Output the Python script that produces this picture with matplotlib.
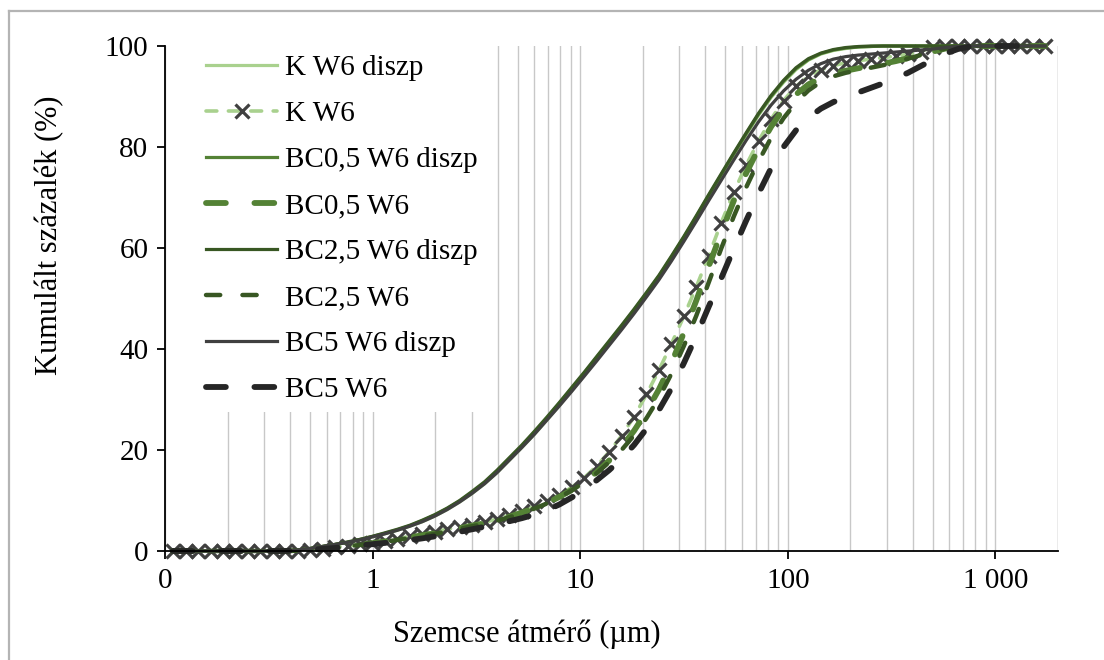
import matplotlib
matplotlib.use("Agg")
import matplotlib.pyplot as plt
from matplotlib.ticker import FixedLocator, NullFormatter
from matplotlib.lines import Line2D

plt.rcParams['font.family'] = ['Liberation Serif', 'DejaVu Serif']

# particle diameter classes (µm)
diameter = [0.109, 0.126, 0.144, 0.166, 0.190, 0.218, 0.251, 0.288, 0.330, 0.379,
            0.435, 0.500, 0.574, 0.659, 0.757, 0.869, 0.998, 1.146, 1.315, 1.510,
            1.734, 1.991, 2.286, 2.624, 3.013, 3.459, 3.972, 4.560, 5.236, 6.012,
            6.902, 7.925, 9.099, 10.45, 11.99, 13.77, 15.81, 18.16, 20.84, 23.93,
            27.48, 31.55, 36.22, 41.59, 47.75, 54.83, 62.95, 72.28, 82.99, 95.28,
            109.4, 125.6, 144.2, 165.6, 190.1, 218.3, 250.6, 287.7, 330.4, 379.3,
            435.5, 500.0, 574.1, 659.2, 756.8, 868.9, 997.7, 1146, 1315, 1510, 1734]

# cumulative percentages
k_w6_diszp = [0, 0, 0, 0, 0, 0, 0, 0, 0, 0.05,
              0.2, 0.5, 0.9, 1.3, 1.7, 2.2, 2.8, 3.4, 4.1, 4.9,
              5.8, 6.9, 8.2, 9.7, 11.4, 13.3, 15.5, 18.0, 20.5, 23.1,
              25.9, 28.8, 31.8, 34.8, 37.9, 41.0, 44.1, 47.3, 50.6, 54.0,
              57.8, 61.8, 65.9, 70.1, 74.3, 78.4, 82.4, 86.3, 89.8, 92.8,
              95.3, 97.2, 98.4, 99.1, 99.5, 99.8, 99.9, 100, 100, 100,
              100, 100, 100, 100, 100, 100, 100, 100, 100, 100, 100]

k_w6 = [0, 0, 0, 0, 0, 0, 0, 0, 0, 0,
        0.05, 0.2, 0.4, 0.7, 1.0, 1.3, 1.6, 2.0, 2.4, 2.9,
        3.4, 3.8, 4.3, 4.8, 5.2, 5.7, 6.3, 7.1, 7.9, 8.9,
        9.9, 11.1, 12.6, 14.5, 16.8, 19.6, 22.8, 26.6, 31.0, 35.8,
        41.0, 46.5, 52.3, 58.5, 65.0, 71.0, 76.4, 81.2, 85.5, 89.2,
        92.0, 94.0, 95.3, 96.1, 96.7, 97.1, 97.4, 97.7, 98.0, 98.4,
        98.9, 99.8, 100, 100, 100, 100, 100, 100, 100, 100, 100]

bc05_w6_diszp = [0, 0, 0, 0, 0, 0, 0, 0, 0, 0.05,
                 0.2, 0.5, 0.9, 1.3, 1.7, 2.3, 2.9, 3.5, 4.2, 5.0,
                 6.0, 7.1, 8.4, 9.9, 11.6, 13.5, 15.8, 18.3, 20.8, 23.5,
                 26.3, 29.2, 32.2, 35.2, 38.3, 41.4, 44.5, 47.7, 51.0, 54.4,
                 58.2, 62.1, 66.2, 70.4, 74.5, 78.6, 82.6, 86.5, 90.0, 93.0,
                 95.5, 97.3, 98.5, 99.2, 99.6, 99.8, 99.9, 100, 100, 100,
                 100, 100, 100, 100, 100, 100, 100, 100, 100, 100, 100]

bc05_w6 = [0, 0, 0, 0, 0, 0, 0, 0, 0, 0,
           0.05, 0.2, 0.4, 0.65, 0.95, 1.25, 1.55, 1.9, 2.3, 2.7,
           3.1, 3.5, 4.0, 4.5, 5.0, 5.5, 6.1, 6.8, 7.6, 8.5,
           9.5, 10.7, 12.1, 13.7, 15.6, 17.9, 20.6, 23.8, 27.6, 32.0,
           37.2, 43.2, 49.6, 56.4, 63.0, 69.3, 74.8, 79.7, 84.0, 87.6,
           90.4, 92.4, 93.7, 94.5, 95.1, 95.6, 96.0, 96.5, 97.0, 97.6,
           98.3, 98.9, 99.5, 99.9, 100, 100, 100, 100, 100, 100, 100]

bc25_w6_diszp = [0, 0, 0, 0, 0, 0, 0, 0, 0, 0.05,
                 0.2, 0.5, 0.9, 1.3, 1.8, 2.3, 2.9, 3.6, 4.3, 5.1,
                 6.1, 7.2, 8.5, 10.0, 11.8, 13.7, 16.0, 18.5, 21.0, 23.7,
                 26.5, 29.4, 32.4, 35.4, 38.5, 41.6, 44.7, 47.9, 51.2, 54.6,
                 58.4, 62.3, 66.4, 70.6, 74.7, 78.8, 82.8, 86.7, 90.2, 93.2,
                 95.7, 97.5, 98.6, 99.3, 99.7, 99.9, 100, 100, 100, 100,
                 100, 100, 100, 100, 100, 100, 100, 100, 100, 100, 100]

bc25_w6 = [0, 0, 0, 0, 0, 0, 0, 0, 0, 0,
           0.05, 0.2, 0.4, 0.6, 0.9, 1.2, 1.5, 1.8, 2.2, 2.6,
           3.0, 3.4, 3.9, 4.4, 4.9, 5.4, 6.0, 6.7, 7.5, 8.4,
           9.4, 10.6, 12.0, 13.6, 15.4, 17.6, 20.0, 22.9, 26.3, 30.3,
           35.1, 40.6, 46.6, 53.2, 59.9, 66.2, 72.0, 77.2, 81.8, 85.7,
           88.8, 91.2, 92.9, 94.0, 94.7, 95.2, 95.7, 96.2, 96.8, 97.5,
           98.2, 98.9, 99.5, 99.9, 100, 100, 100, 100, 100, 100, 100]

bc5_w6_diszp = [0, 0, 0, 0, 0, 0, 0, 0, 0, 0.05,
                0.2, 0.5, 0.9, 1.3, 1.7, 2.2, 2.8, 3.4, 4.1, 4.9,
                5.8, 6.9, 8.2, 9.7, 11.4, 13.3, 15.5, 18.0, 20.5, 23.1,
                25.9, 28.7, 31.6, 34.6, 37.6, 40.7, 43.8, 47.0, 50.3, 53.7,
                57.4, 61.3, 65.3, 69.4, 73.4, 77.4, 81.3, 85.0, 88.3, 91.1,
                93.4, 95.2, 96.5, 97.4, 97.9, 98.2, 98.4, 98.6, 98.8, 99.0,
                99.2, 99.4, 99.7, 99.9, 100, 100, 100, 100, 100, 100, 100]

bc5_w6 = [0, 0, 0, 0, 0, 0, 0, 0, 0, 0,
          0.05, 0.2, 0.4, 0.6, 0.85, 1.1, 1.35, 1.6, 1.85, 2.15,
          2.5, 2.9, 3.35, 3.8, 4.3, 4.8, 5.3, 5.9, 6.5, 7.2,
          8.1, 9.2, 10.6, 12.2, 14.0, 16.0, 18.3, 21.0, 24.2, 27.9,
          32.2, 37.2, 42.6, 48.4, 54.0, 59.8, 65.4, 70.8, 75.8, 80.0,
          83.3, 85.8, 87.6, 88.9, 89.9, 90.8, 91.7, 92.6, 93.6, 94.7,
          96.0, 97.3, 98.5, 99.4, 99.9, 100, 100, 100, 100, 100, 100]

x_tick_values = [0.1, 1, 10, 100, 1000]
x_tick_labels = ['0', '1', '10', '100', '1 000']
y_tick_values = [0, 20, 40, 60, 80, 100]

LIGHT = '#a9d18e'
MID = '#548235'
DARK = '#385723'
GREY = '#404040'
BLACK = '#262626'

fig = plt.figure(figsize=(11.04, 6.6), dpi=100)
fig.patch.set_facecolor('white')
ax = fig.add_axes([165 / 1104, 1 - 551 / 660, (1058 - 165) / 1104, (551 - 46) / 660])


def dashed(on, off, lw):
    return dict(dashes=(on, off), dash_capstyle='round', solid_capstyle='round', lw=lw)


ax.plot(diameter, k_w6_diszp, color=LIGHT, lw=2.3, label='K W6 diszp', clip_on=False)
ax.plot(diameter, k_w6, color=LIGHT, marker='x', ms=10, mec=GREY, mfc=GREY, mew=2.3,
        label='K W6', clip_on=False, **dashed(3.0, 3.2, 2.6))
ax.plot(diameter, bc05_w6_diszp, color=MID, lw=2.3, label='BC0,5 W6 diszp', clip_on=False)
ax.plot(diameter, bc05_w6, color=MID, label='BC0,5 W6', clip_on=False, **dashed(3.4, 4.9, 4.2))
ax.plot(diameter, bc25_w6_diszp, color=DARK, lw=2.3, label='BC2,5 W6 diszp', clip_on=False)
ax.plot(diameter, bc25_w6, color=DARK, label='BC2,5 W6', clip_on=False, **dashed(3.2, 5.0, 3.2))
ax.plot(diameter, bc5_w6_diszp, color=GREY, lw=2.3, label='BC5 W6 diszp', clip_on=False)
ax.plot(diameter, bc5_w6, color=BLACK, label='BC5 W6', clip_on=False, **dashed(3.4, 4.9, 4.2))

ax.set_xscale('log')
ax.set_xlim(0.1, 2000)
ax.set_ylim(0, 100)

ax.xaxis.set_major_locator(FixedLocator(x_tick_values))
ax.set_xticklabels(x_tick_labels)
minor = [m * 10.0 ** e for e in range(-1, 4) for m in range(2, 10)] + [2000]
ax.xaxis.set_minor_locator(FixedLocator([v for v in minor if v <= 2000]))
ax.xaxis.set_minor_formatter(NullFormatter())
ax.set_yticks(y_tick_values)

ax.grid(True, axis='x', which='both', color='#c8c8c8', lw=1.0)
ax.set_axisbelow(True)

for side in ('top', 'right'):
    ax.spines[side].set_visible(False)
for side in ('left', 'bottom'):
    ax.spines[side].set_color('black')
    ax.spines[side].set_linewidth(1.3)

ax.tick_params(axis='both', which='major', direction='out', length=6, width=1.3,
               labelsize=21, color='black', pad=6)
ax.tick_params(axis='x', which='minor', length=0)

ax.set_xlabel('Szemcse átmérő (µm)', fontsize=22)
ax.set_ylabel('Kumulált százalék (%)', fontsize=22)
ax.xaxis.set_label_coords(0.405, -0.135)
ax.yaxis.set_label_coords(-0.113, 0.626)

leg = ax.legend(loc='upper left', bbox_to_anchor=(0.036, 1.0), fontsize=21,
                frameon=True, facecolor='white', edgecolor='none', framealpha=1.0,
                fancybox=False, borderpad=0.3, borderaxespad=0.0,
                handlelength=2.45, handletextpad=0.25, labelspacing=0.67)
leg.set_zorder(5)

# chart-area border (top and left edges)
border = dict(color='#b4b4b4', lw=1.6, transform=fig.transFigure)
fig.add_artist(Line2D([9 / 1104, 1.0], [1 - 11 / 660, 1 - 11 / 660], **border))
fig.add_artist(Line2D([9 / 1104, 9 / 1104], [0.0, 1 - 11 / 660], **border))

fig.savefig('out.png', dpi=100, facecolor='white')
